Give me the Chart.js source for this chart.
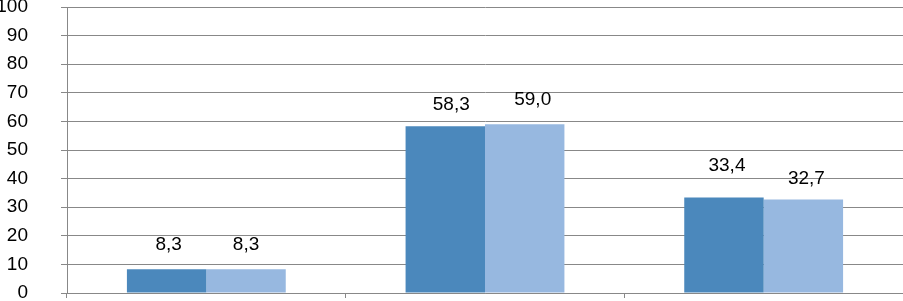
<!DOCTYPE html>
<html>
<head>
<meta charset="utf-8">
<script src="https://cdn.jsdelivr.net/npm/chart.js@4/dist/chart.umd.min.js"></script>
<style>
  html, body { margin: 0; padding: 0; background: #fff; }
  #wrap { width: 903px; height: 301px; }
</style>
</head>
<body>
<div id="wrap"><canvas id="c" width="903" height="301"></canvas></div>
<script>
const categories = ['1', '2', '3'];
const series1 = [8.3, 58.3, 33.4];
const series2 = [8.3, 59.0, 32.7];
const yTicks = [0, 10, 20, 30, 40, 50, 60, 70, 80, 90, 100];

const FONT = "'Liberation Sans', Arial, sans-serif";

const valueLabels = {
  id: 'valueLabels',
  afterDatasetsDraw(chart, args, opts) {
    const ctx = chart.ctx;
    ctx.save();
    ctx.font = '19px ' + FONT;
    ctx.fillStyle = '#000';
    ctx.textAlign = 'center';
    ctx.textBaseline = 'alphabetic';
    chart.data.datasets.forEach((ds, di) => {
      const meta = chart.getDatasetMeta(di);
      const gaps = (opts.gaps && opts.gaps[di]) || [];
      const shifts = (opts.shifts && opts.shifts[di]) || [];
      meta.data.forEach((bar, i) => {
        const txt = ds.data[i].toFixed(1).replace('.', ',');
        const g = gaps[i] != null ? gaps[i] : 18;
        const s = shifts[i] != null ? shifts[i] : 0;
        ctx.fillText(txt, bar.x + s, bar.y - g);
      });
    });
    ctx.restore();
  }
};

new Chart(document.getElementById('c'), {
  type: 'bar',
  data: {
    labels: categories,
    datasets: [
      { data: series1, backgroundColor: '#4B88BC', borderWidth: 0 },
      { data: series2, backgroundColor: '#97B8E0', borderWidth: 0 }
    ]
  },
  options: {
    responsive: false,
    animation: false,
    devicePixelRatio: 1,
    layout: { padding: { top: 7, right: 0, bottom: 0, left: 0 } },
    plugins: {
      legend: { display: false },
      tooltip: { enabled: false },
      valueLabels: {
        gaps: [[19, 16, 26], [19, 19, 15]],
        shifts: [[2, 6, 3], [0, 8, 3]]
      }
    },
    datasets: { bar: { categoryPercentage: 0.57, barPercentage: 1.0 } },
    scales: {
      x: {
        grid: { drawOnChartArea: false, drawTicks: true, tickLength: 5, color: '#888' },
        border: { color: '#888', width: 1 },
        ticks: { display: false },
        afterFit(scale) { scale.height = 8; scale.paddingLeft = 0; scale.paddingRight = 0; }
      },
      y: {
        min: 0, max: 100,
        afterBuildTicks(scale) { scale.ticks = yTicks.map(v => ({ value: v })); },
        grid: { color: '#888', tickLength: 6, drawTicks: true },
        border: { color: '#888', width: 1 },
        ticks: { font: { family: FONT, size: 19 }, color: '#000', padding: 33 },
        afterFit(scale) { scale.width = 67; scale.paddingTop = 0; scale.paddingBottom = 0; }
      }
    }
  },
  plugins: [valueLabels]
});
</script>
</body>
</html>
